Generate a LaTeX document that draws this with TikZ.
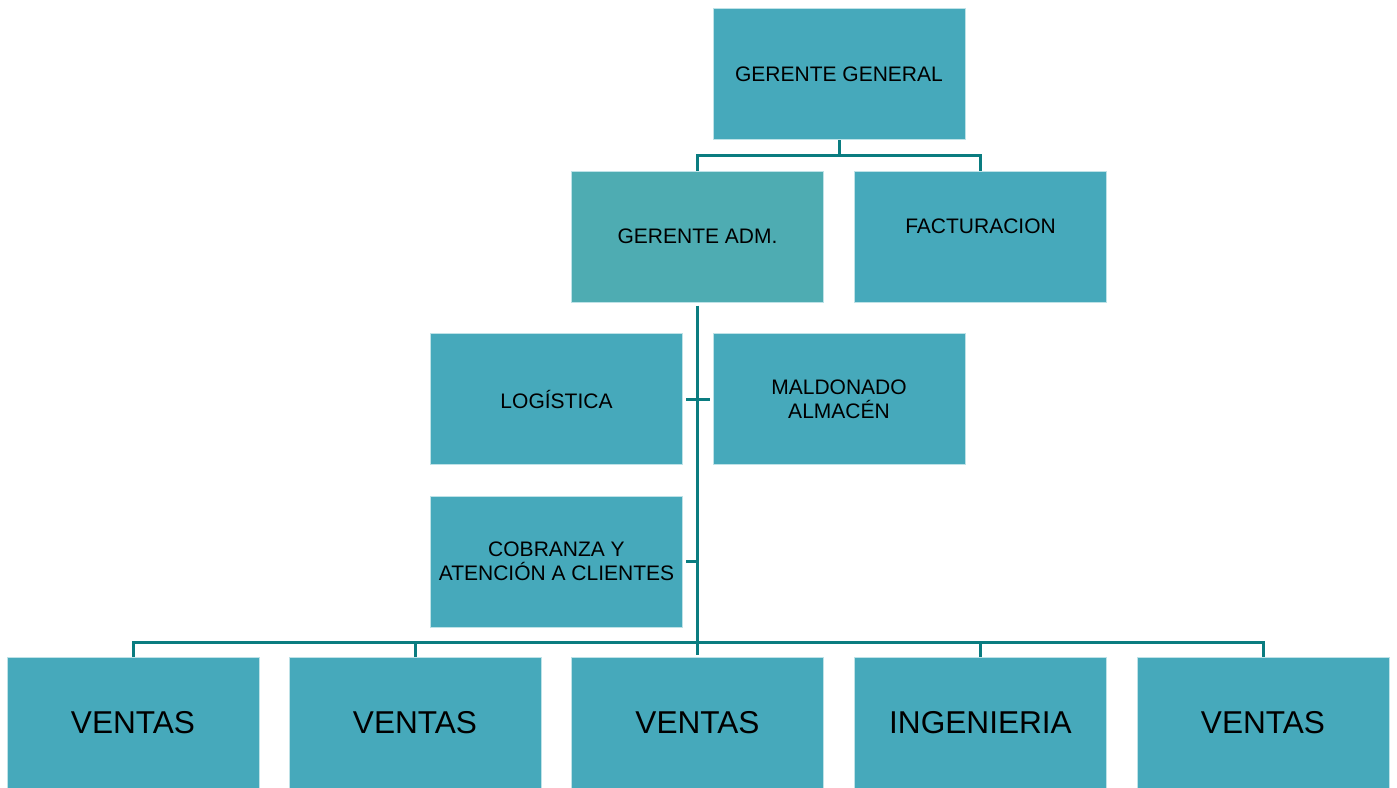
\documentclass[tikz,border=0pt]{standalone}
\usepackage{fontspec}
\setmainfont{Liberation Sans}
\usetikzlibrary{calc}
\definecolor{boxfill}{RGB}{70,169,187}
\definecolor{admfill}{RGB}{78,172,178}
\definecolor{boxedge}{RGB}{190,226,231}
\definecolor{conn}{RGB}{10,124,128}
\tikzset{
  orgbox/.style={rectangle, fill=boxfill, draw=boxedge, line width=1pt,
    minimum width=252pt, minimum height=131pt, inner sep=0pt, align=center,
    text=black, font=\fontsize{21}{24}\selectfont},
  bigbox/.style={orgbox, font=\fontsize{31.6}{36}\selectfont},
  plain/.style={inner sep=0pt, align=center, text=black, font=\fontsize{21}{24}\selectfont},
  link/.style={draw=conn, line width=3pt}
}
\begin{document}
\begin{tikzpicture}[x=1pt,y=-1pt]
\useasboundingbox (0,0) rectangle (1397,787);
\fill[white] (0,0) rectangle (1397,787);
% boxes
\node[orgbox] (gg) at (839,74) {GERENTE GENERAL};
\node[orgbox, fill=admfill] (adm) at (697.5,236.5) {GERENTE ADM.};
\node[orgbox] (fact) at (980.5,236.5) {};
\node[plain] (facttxt) at (980.5,226) {FACTURACION};
\node[orgbox] (log) at (556.5,399) {LOGÍSTICA};
\node[orgbox] (mal) at (839,399) {MALDONADO\\ALMACÉN};
\node[orgbox] (cob) at (556.5,561.5) {COBRANZA Y\\ATENCIÓN A CLIENTES};
\node[bigbox] (v1) at (133,723) {VENTAS};
\node[bigbox] (v2) at (415,723) {VENTAS};
\node[bigbox] (v3) at (697.5,723) {VENTAS};
\node[bigbox] (v4) at (980.5,723) {INGENIERIA};
\node[bigbox] (v5) at (1263,723) {VENTAS};
% connectors
\draw[link] (gg.south) -- ++(0,15) coordinate (ggbus);
\draw[link] (adm.north) |- (ggbus) -| (fact.north);
\draw[link] ($(adm.south)+(0,3)$) -- ($(v3.north)+(0,-2)$);
\draw[link, shorten <=3pt, shorten >=3pt] (log.east) -- (mal.west);
\draw[link, shorten <=3pt] (cob.east) -- (cob.east -| adm.south);
\draw[link] (v1.north) -- ++(0,-15) -| (v5.north);
\draw[link] (v2.north) -- ++(0,-15);
\draw[link] (v4.north) -- ++(0,-15);
\end{tikzpicture}
\end{document}
